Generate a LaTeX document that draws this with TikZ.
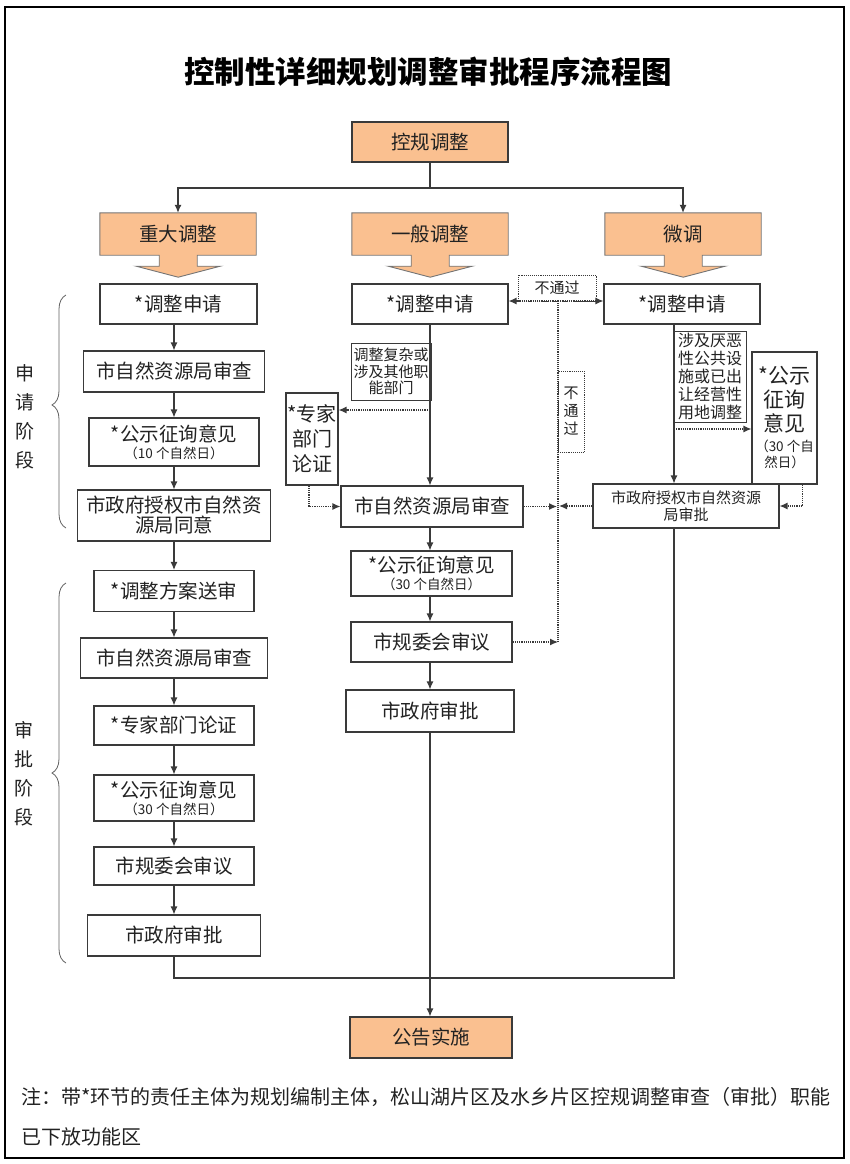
\documentclass[tikz,border=0pt]{standalone}
\usepackage{fontspec}
\setmainfont{Noto Sans CJK SC}
\usetikzlibrary{arrows.meta,decorations.pathreplacing,calc}
\definecolor{org}{HTML}{FAC090}
\definecolor{lnc}{HTML}{3A3A3A}
\definecolor{txt}{HTML}{222222}
\pgfdeclarelayer{bg}
\pgfsetlayers{bg,main}
\newcommand{\fs}[2]{\fontsize{#1}{#2}\selectfont}
\newcommand{\smt}{\fontsize{13.5}{15}\selectfont}
\begin{document}
\begin{tikzpicture}[x=1pt,y=-1pt,
  bx/.style={draw=lnc, line width=1.1pt, fill=white, inner sep=0pt, align=center, text=txt, font=\fs{19.5}{20}},
  ob/.style={inner sep=0pt, align=center, text=txt, font=\fs{19.5}{20}},
  obshape/.style={draw=lnc!70, line width=0.9pt, fill=org},
  lbl/.style={draw=lnc, line width=1pt, fill=white, inner sep=0pt, align=center, text=txt, font=\fs{15}{16.5}},
  nglbl/.style={draw=lnc, line width=0.9pt, densely dotted, fill=white, inner sep=0pt, align=center, text=txt, font=\fs{15}{18}},
  lnk/.style={draw=lnc, line width=1.1pt},
  ar/.style={draw=lnc, line width=1.1pt, -{Latex[length=8pt,width=7pt]}},
  dl/.style={draw=lnc, line width=1.1pt, densely dotted},
  dar/.style={draw=lnc, line width=1.2pt, densely dotted, -{Latex[length=8pt,width=7pt]}},
  brc/.style={draw=lnc!80, line width=0.8pt, decorate},
  stage/.style={inner sep=0pt, align=center, text=txt, font=\fs{19}{29}}
]
\useasboundingbox (0,0) rectangle (850,1164);
\draw[line width=2.6pt, black] (5,7) rectangle (844,1158);

% title
\node[font=\fs{30.5}{32}\bfseries, text=black] (title) at (428,72) {控制性详细规划调整审批程序流程图};

% top
\node[bx, fill=org, minimum width=156pt, minimum height=40pt] (k0) at (430,142) {控规调整};

% three categories
\node[ob, minimum width=156pt, minimum height=42pt] (A0) at (178,234) {重大调整};
\node[ob, minimum width=156pt, minimum height=42pt] (B0) at (430,234) {一般调整};
\node[ob, minimum width=156pt, minimum height=42pt] (C0) at (683,234) {微调};
\begin{pgfonlayer}{bg}
\foreach \n in {A0,B0,C0}{
  \draw[obshape] (\n.north west) -- (\n.north east) -- (\n.south east) -- ++(-59,0) -- ++(0,11) -- ++(23,0) -- ++(-42,11) -- ++(-42,-11) -- ++(23,0) -- ++(0,-11) -- (\n.south west) -- cycle;
}
\end{pgfonlayer}

\coordinate (split) at (430,188);
\draw[lnk] (k0.south) -- (split);
\draw[ar] (split) -| (A0.north);
\draw[ar] (split) -| (C0.north);

% left column
\node[bx, minimum width=157pt, minimum height=40pt] (A1) at (178.5,304) {*调整申请};
\node[bx, minimum width=181pt, minimum height=41pt] (A2) at (174,371.5) {市自然资源局审查};
\node[bx, minimum width=170pt, minimum height=48pt] (A3) at (174,442) {*公示征询意见\\[-3pt]{\smt（10 个自然日）}};
\node[bx, minimum width=193pt, minimum height=51pt] (A4) at (174,515.5) {市政府授权市自然资\\源局同意};
\node[bx, minimum width=160pt, minimum height=41pt] (A5) at (174,591) {*调整方案送审};
\node[bx, minimum width=187pt, minimum height=40pt] (A6) at (174,658) {市自然资源局审查};
\node[bx, minimum width=160pt, minimum height=39pt] (A7) at (174,725.5) {*专家部门论证};
\node[bx, minimum width=160pt, minimum height=46pt] (A8) at (174,798) {*公示征询意见\\[-3pt]{\smt（30 个自然日）}};
\node[bx, minimum width=160pt, minimum height=38pt] (A9) at (174,866) {市规委会审议};
\node[bx, minimum width=173pt, minimum height=41pt] (A10) at (174,935.5) {市政府审批};

\draw[ar] (A1.south -| A2.north) -- (A2.north);
\draw[ar] (A2.south) -- (A3.north);
\draw[ar] (A3.south) -- (A4.north);
\draw[ar] (A4.south) -- (A5.north);
\draw[ar] (A5.south) -- (A6.north);
\draw[ar] (A6.south) -- (A7.north);
\draw[ar] (A7.south) -- (A8.north);
\draw[ar] (A8.south) -- (A9.north);
\draw[ar] (A9.south) -- (A10.north);

% braces and stage labels
\draw[brc, decoration={brace, amplitude=14pt, aspect=0.528}] (66,528) -- (66,295);
\draw[brc, decoration={brace, amplitude=14pt}] (66,963) -- (66,583);
\node[stage] (S1) at (25,417) {申\\请\\阶\\段};
\node[stage] (S2) at (24,774) {审\\批\\阶\\段};

% middle column
\node[bx, minimum width=156pt, minimum height=40pt] (B1) at (430,304) {*调整申请};
\node[lbl, minimum width=80pt, minimum height=57pt] (B2) at (391,371.5) {调整复杂或\\涉及其他职\\能部门};
\node[bx, font=\fs{20}{25}, minimum width=52pt, minimum height=92pt] (BX) at (312,439) {*专家\\部门\\论证};
\node[bx, minimum width=182pt, minimum height=41pt] (B3) at (432,506.5) {市自然资源局审查};
\node[bx, minimum width=161pt, minimum height=45pt] (B4) at (431.5,573.5) {*公示征询意见\\[-3pt]{\smt（30 个自然日）}};
\node[bx, minimum width=161pt, minimum height=40pt] (B5) at (431.5,642) {市规委会审议};
\node[bx, minimum width=168pt, minimum height=42pt] (B6) at (430,711) {市政府审批};
\node[bx, fill=org, minimum width=162pt, minimum height=41pt] (END) at (431,1037.5) {公告实施};

\coordinate (cm) at (430,0);
\draw[ar] (B1.south -| cm) -- (B3.north -| cm);
\draw[ar] (B3.south -| cm) -- (B4.north -| cm);
\draw[ar] (B4.south -| cm) -- (B5.north -| cm);
\draw[ar] (B5.south -| cm) -- (B6.north -| cm);
\draw[ar] (B6.south -| cm) -- (END.north -| cm);
\coordinate (bsplit) at (430,410);
\draw[dar] (bsplit) -- (bsplit -| BX.east);
\draw[dar] ([xshift=-3pt]BX.south) |- (B3.west);

% right column
\node[bx, minimum width=156pt, minimum height=40pt] (C1) at (682,304) {*调整申请};
\node[lbl, font=\fs{16}{18}, minimum width=72pt, minimum height=91pt] (C2) at (710,376.5) {涉及厌恶\\性公共设\\施或已出\\让经营性\\用地调整};
\node[bx, font=\fs{21}{24}, minimum width=65pt, minimum height=132pt] (CX) at (784.5,418) {*公示\\征询\\意见\\[-4pt]{\smt（30 个自}\\[-8pt]{\smt 然日）}};
\node[bx, font=\fs{15}{16.5}, minimum width=186pt, minimum height=44pt] (C3) at (686,506) {市政府授权市自然资源\\局审批};

\coordinate (cr) at (674,0);
\draw[ar] (C1.south -| cr) -- (C3.north -| cr);
\coordinate (csplit) at (674,429);
\draw[dar] (csplit) -- (csplit -| CX.west);
\draw[dar] ([xshift=18pt]CX.south) |- (C3.east);

% merge to bottom
\coordinate (mbot) at (430,978);
\draw[lnk] (A10.south) |- (mbot) -| (C3.south -| cr);

% not-pass loop
\node[nglbl, minimum width=78pt, minimum height=26pt] (NG1) at (557,288) {不通过};
\node[nglbl, minimum width=26pt, minimum height=81pt] (NG2) at (571,411.5) {不\\通\\过};
\coordinate (ngTop) at (558,301);
\draw[dl] (ngTop) -- (B5.east -| ngTop);
\draw[dar] (ngTop) -- (ngTop -| B1.east);
\draw[dar] (ngTop) -- (ngTop -| C1.west);
\draw[dar] (B3.east) -- ([xshift=-1pt]B3.east -| ngTop);
\draw[dar] (C3.west) -- ([xshift=1pt]C3.west -| ngTop);
\draw[dar] (B5.east) -- (B5.east -| ngTop);

% note
\node[anchor=west, inner sep=0pt, text=txt, font=\fs{20}{20}] (note1) at (21,1097) {注：带*环节的责任主体为规划编制主体，松山湖片区及水乡片区控规调整审查（审批）职能};
\node[anchor=west, inner sep=0pt, text=txt, font=\fs{20}{20}] (note2) at (21,1137) {已下放功能区};
\end{tikzpicture}
\end{document}
